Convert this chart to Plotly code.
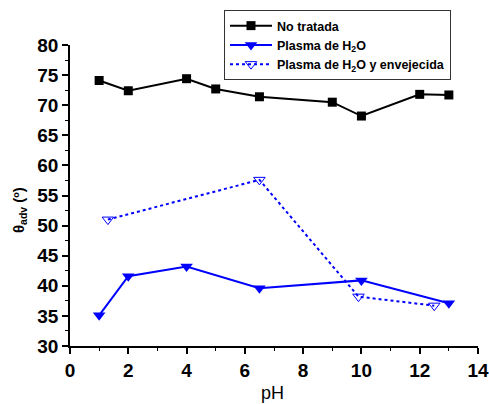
import plotly.graph_objects as go

ph_nt = [1, 2, 4, 5, 6.5, 9, 10, 12, 13]
theta_nt = [74.1, 72.4, 74.4, 72.7, 71.4, 70.5, 68.2, 71.8, 71.7]

ph_pl = [1, 2, 4, 6.5, 10, 13]
theta_pl = [35.1, 41.6, 43.2, 39.6, 40.9, 37.1]

ph_env = [1.3, 6.5, 9.9, 12.5]
theta_env = [51.0, 57.6, 38.2, 36.7]

names = ["<b>No tratada</b>", "<b>Plasma de H<sub>2</sub>O</b>", "<b>Plasma de H<sub>2</sub>O y envejecida</b>"]

font_family = "Arial, Liberation Sans, sans-serif"

W, H = 489, 404
L, R, T, B = 70, 11, 45, 58

fig = go.Figure()
fig.add_trace(go.Scatter(x=ph_nt, y=theta_nt, mode="lines+markers", name=names[0],
                         line=dict(color="black", width=2),
                         marker=dict(symbol="square", size=9, color="black")))
fig.add_trace(go.Scatter(x=ph_pl, y=theta_pl, mode="lines+markers", name=names[1],
                         line=dict(color="#0000ff", width=2),
                         marker=dict(symbol="triangle-down", size=11, color="#0000ff")))
fig.add_trace(go.Scatter(x=ph_env, y=theta_env, mode="lines+markers", name=names[2],
                         line=dict(color="#0000ff", width=2, dash="dot"),
                         marker=dict(symbol="triangle-down-open", size=10, color="#0000ff",
                                     line=dict(width=1))))

ph_h = H - T - B
ph_w = W - L - R

fig.update_layout(
    width=W, height=H,
    margin=dict(l=L, r=R, t=T, b=B, autoexpand=False),
    paper_bgcolor="white", plot_bgcolor="white",
    font=dict(family=font_family, color="black"),
    showlegend=True,
    legend=dict(x=(224 - L) / ph_w, y=1 + (T - 10) / ph_h, xanchor="left", yanchor="top",
                bordercolor="#333333", borderwidth=1, bgcolor="white",
                font=dict(size=12.5, family=font_family),
                tracegroupgap=0, itemwidth=42),
    xaxis=dict(range=[0, 14], tickvals=[0, 2, 4, 6, 8, 10, 12, 14], automargin=False,
               showline=True, linecolor="black", linewidth=1.5,
               ticks="outside", ticklen=6, tickwidth=1.5, tickcolor="black",
               minor=dict(dtick=1, ticks="outside", ticklen=3, tickwidth=1, tickcolor="black"),
               showgrid=False, zeroline=False,
               tickfont=dict(size=19, weight="bold")),
    yaxis=dict(range=[30, 80], tickvals=[30, 35, 40, 45, 50, 55, 60, 65, 70, 75, 80], automargin=False,
               showline=True, linecolor="black", linewidth=1.5,
               ticks="outside", ticklen=6, tickwidth=1.5, tickcolor="black",
               minor=dict(dtick=2.5, ticks="outside", ticklen=3, tickwidth=1, tickcolor="black"),
               showgrid=False, zeroline=False,
               tickfont=dict(size=19, weight="bold")),
    annotations=[
        dict(text="pH", xref="paper", yref="paper", x=(272 - L) / ph_w, y=-(393 - (H - B)) / ph_h,
             xanchor="center", yanchor="middle", showarrow=False, font=dict(size=18)),
        dict(text="<b>θ<sub>adv</sub> (º)</b>", xref="paper", yref="paper", x=-(L - 19) / ph_w,
             y=1 - (210 - T) / ph_h, xanchor="center", yanchor="middle", textangle=-90,
             showarrow=False, font=dict(size=15)),
    ],
)

fig.write_html("out.html")
